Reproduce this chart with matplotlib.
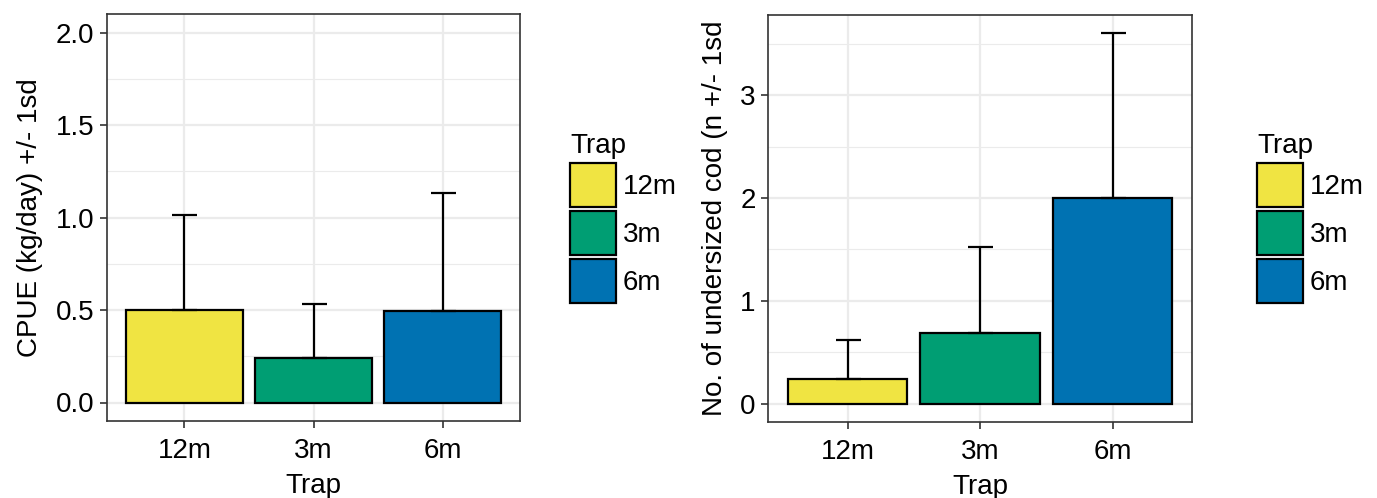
import numpy as np
import matplotlib.pyplot as plt
from matplotlib.patches import Patch

plt.rcParams['font.family'] = ['Liberation Sans', 'DejaVu Sans']

traps = ['12m', '3m', '6m']
cols = ['#F0E442', '#009E73', '#0072B2']
cpue = [0.50, 0.243, 0.497]
cpue_sd = [0.516, 0.287, 0.638]
cod = [0.243, 0.686, 2.0]
cod_sd = [0.375, 0.841, 1.60]

fig = plt.figure(figsize=(13.77, 4.98), dpi=100)
W, H = 1377, 498
ax1 = fig.add_axes([107/W, 1-421/H, 413/W, 407/H])
ax2 = fig.add_axes([768/W, 1-422/H, 424/W, 407/H])

def panel(ax, vals, sd, ylab, ylim, major, minor, fmt, legx):
    x = np.arange(1, len(traps)+1)
    ax.set_axisbelow(True)
    ax.bar(x, vals, width=0.9, color=cols, edgecolor='black', linewidth=1.6, zorder=2)
    ax.errorbar(x, vals, yerr=[np.zeros(len(vals)), sd], fmt='none', ecolor='black',
                elinewidth=1.6, capsize=9, capthick=1.6, zorder=3)
    ax.set_xlim(0.4, 3.6)
    ax.set_ylim(*ylim)
    ax.set_xticks(x)
    ax.set_xticklabels(traps)
    ax.set_yticks(major)
    ax.set_yticklabels([fmt.format(v) for v in major])
    ax.set_yticks(minor, minor=True)
    ax.set_xticks(x[:-1] + 0.5, minor=True)
    ax.grid(which='major', color='#EBEBEB', linewidth=1.6)
    ax.grid(which='minor', axis='y', color='#EBEBEB', linewidth=0.8)
    ax.tick_params(which='minor', length=0)
    ax.tick_params(which='major', length=5, width=1.2, color='#333333',
                   labelsize=20, labelcolor='black', pad=4)
    ax.tick_params(axis='x', which='major', pad=7)
    for s in ax.spines.values():
        s.set_color('#333333')
        s.set_linewidth(1.2)
    ax.set_xlabel('Trap', fontsize=20, labelpad=7)
    ax.set_ylabel(ylab, fontsize=20, labelpad=9)
    handles = [Patch(facecolor=c, edgecolor='black', linewidth=1.6) for c in cols]
    ax.legend(handles, traps, title='Trap', loc='upper left',
              bbox_to_anchor=(legx, 1-133/H), bbox_transform=fig.transFigure,
              frameon=False, fontsize=20, title_fontsize=20,
              handlelength=1.65, handleheight=2.05, handletextpad=0.25,
              labelspacing=0.15, borderaxespad=0, borderpad=0,
              alignment='left')

panel(ax1, cpue, cpue_sd, 'CPUE (kg/day) +/- 1sd', (-0.1, 2.1),
      [0.0, 0.5, 1.0, 1.5, 2.0], [0.25, 0.75, 1.25, 1.75], '{:.1f}', 570/W)
panel(ax2, cod, cod_sd, 'No. of undersized cod (n +/- 1sd', (-0.18, 3.78),
      [0, 1, 2, 3], [0.5, 1.5, 2.5, 3.5], '{:d}', 1257/W)

fig.savefig('out.png', dpi=100)
